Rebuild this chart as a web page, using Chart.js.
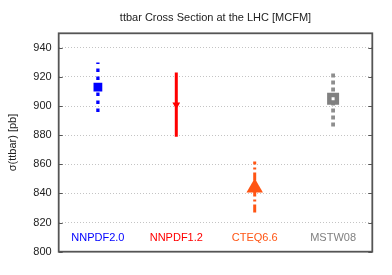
<!DOCTYPE html>
<html>
<head>
<meta charset="utf-8">
<script src="https://cdn.jsdelivr.net/npm/chart.js@4"></script>
<style>
  html, body { margin: 0; padding: 0; background: #fff; }
  canvas { display: block; }
</style>
</head>
<body>
<canvas id="c" width="392" height="275"></canvas>
<script>
// PDF sets and their ttbar cross sections (pb)
const categories = ['NNPDF2.0', 'NNPDF1.2', 'CTEQ6.6', 'MSTW08'];
const central = [913, 901, 844, 905];
const errLow = [896, 879, 827, 886];
const errHigh = [930, 923, 862, 924];
const yMin = 800, yMax = 950, yStep = 20;

// styles, one per PDF set
const colors = ['#0000ff', '#ff0000', '#ff5514', '#808080'];
const barColors = ['#0000ff', '#ff0000', '#ff5514', '#8e8e8e'];
const barWidths = [3.3, 3, 3, 3.8];
const barDash = [[3.5, 4.5], [], [8, 3, 2, 3], [4, 3]];
const markers = [
  { pointStyle: 'rect', radius: 6.2, rotation: 0, bg: '#0000ff', border: '#0000ff', bw: 0 },
  { pointStyle: 'triangle', radius: 4.5, rotation: 180, bg: '#ff0000', border: '#ff0000', bw: 0 },
  { pointStyle: 'triangle', radius: 9.5, rotation: 0, bg: '#ff5514', border: '#ff5514', bw: 0 },
  { pointStyle: 'rect', radius: 5.3, rotation: 0, bg: '#ffffff', border: '#808080', bw: 4.5 },
];
const FONT = '"Liberation Sans", Arial, Helvetica, sans-serif';

const datasets = [];
categories.forEach((name, i) => {
  datasets.push({
    type: 'line', label: name + ' error',
    data: [{ x: i + 1, y: errLow[i] }, { x: i + 1, y: errHigh[i] }],
    borderColor: barColors[i], borderWidth: barWidths[i], borderDash: barDash[i],
    borderCapStyle: 'butt', pointRadius: 0, fill: false, order: 2,
  });
  const m = markers[i];
  datasets.push({
    type: 'scatter', label: name,
    data: [{ x: i + 1, y: central[i] }],
    pointStyle: m.pointStyle, pointRadius: m.radius, pointRotation: m.rotation,
    backgroundColor: m.bg, borderColor: m.border, borderWidth: m.bw, order: 1,
  });
});

// frame, inward ticks on both sides and the coloured set names
const framePlugin = {
  id: 'frame',
  afterDraw(chart) {
    const { ctx, chartArea: a, scales } = chart;
    const xs = scales.x, ys = scales.y;
    ctx.save();
    ctx.strokeStyle = '#555';
    ctx.lineWidth = 1;
    ys.ticks.forEach(t => {
      const py = Math.round(ys.getPixelForValue(t.value)) + 0.5;
      ctx.beginPath();
      ctx.moveTo(a.left, py); ctx.lineTo(a.left + 4, py);
      ctx.moveTo(a.right, py); ctx.lineTo(a.right - 4, py);
      ctx.stroke();
    });
    ctx.lineWidth = 1.8;
    ctx.strokeRect(a.left, a.top, a.right - a.left, a.bottom - a.top);
    ctx.font = '11px ' + FONT;
    ctx.textAlign = 'center';
    ctx.textBaseline = 'middle';
    categories.forEach((name, i) => {
      ctx.fillStyle = colors[i];
      ctx.fillText(name, xs.getPixelForValue(i + 1), a.bottom - 14);
    });
    ctx.restore();
  }
};

new Chart(document.getElementById('c'), {
  type: 'scatter',
  data: { datasets },
  options: {
    responsive: false, animation: false, events: [],
    layout: { padding: { left: 0, right: 19.7, bottom: 23.3, top: 0 } },
    scales: {
      x: { type: 'linear', min: 0.5, max: 4.5, display: false },
      y: {
        min: yMin, max: yMax,
        ticks: { stepSize: yStep, includeBounds: false, color: '#222', padding: 7,
                 font: { family: FONT, size: 11 } },
        grid: { color: '#c4c4c4', lineWidth: 1, drawTicks: false },
        border: { display: false, dash: [1, 2] },
        title: { display: true, text: 'σ(ttbar) [pb]', color: '#222',
                 font: { family: FONT, size: 11 }, padding: { top: 6.5, bottom: 0 } },
        afterFit(scale) { scale.width = 58.7; }
      }
    },
    plugins: {
      legend: { display: false },
      tooltip: { enabled: false },
      title: { display: true, fullSize: false, text: 'ttbar Cross Section at the LHC [MCFM]', color: '#222',
               font: { family: FONT, size: 11, weight: 'normal' },
               padding: { top: 11.4, bottom: 8.7 } }
    }
  },
  plugins: [framePlugin]
});
</script>
</body>
</html>
